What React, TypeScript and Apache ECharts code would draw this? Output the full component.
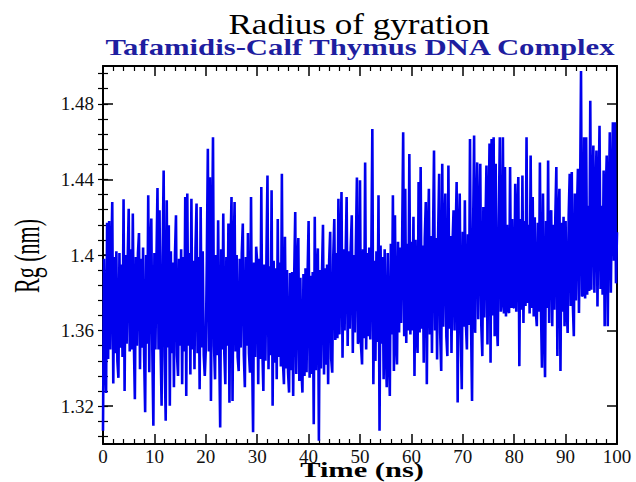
import React, { useEffect, useRef } from "react";
import * as echarts from "echarts";

// Sampling step of the trajectory (ns)
const TIME_STEP = 0.2;

// Radius of gyration (nm), 0.2 ns apart
const rg_0_10 = [
  1.307, 1.398, 1.352, 1.327, 1.417, 1.345, 1.418, 1.35, 1.396, 1.428,
  1.332, 1.399, 1.348, 1.402, 1.344, 1.335, 1.401, 1.351, 1.395, 1.346,
  1.4295, 1.328, 1.4, 1.353, 1.397, 1.4245, 1.349, 1.403, 1.35, 1.422,
  1.355, 1.3237, 1.399, 1.352, 1.401, 1.4116, 1.3395, 1.398, 1.351, 1.404,
  1.347, 1.3168, 1.4, 1.353, 1.4316, 1.338, 1.402, 1.4193, 1.349, 1.3096,
];
const rg_10_20 = [
  1.401, 1.35, 1.397, 1.4354, 1.35, 1.4237, 1.353, 1.3202, 1.399, 1.4447,
  1.346, 1.3123, 1.4289, 1.351, 1.4158, 1.3202, 1.402, 1.348, 1.396, 1.33,
  1.4, 1.421, 1.347, 1.336, 1.398, 1.352, 1.403, 1.3316, 1.399, 1.349,
  1.4307, 1.3254, 1.4325, 1.352, 1.401, 1.3368, 1.4298, 1.35, 1.397, 1.3395,
  1.404, 1.4272, 1.348, 1.399, 1.329, 1.4254, 1.351, 1.402, 1.347, 1.336,
];
const rg_20_30 = [
  1.35, 1.398, 1.4562, 1.349, 1.4412, 1.3228, 1.401, 1.4623, 1.352, 1.3342,
  1.4, 1.347, 1.4184, 1.353, 1.3088, 1.403, 1.35, 1.4219, 1.348, 1.3316,
  1.399, 1.352, 1.4167, 1.3218, 1.402, 1.4307, 1.3228, 1.397, 1.428, 1.349,
  1.4, 1.346, 1.3386, 1.398, 1.351, 1.401, 1.4167, 1.347, 1.33, 1.399,
  1.352, 1.4116, 1.348, 1.3377, 1.4307, 1.35, 1.3062, 1.396, 1.346, 1.4044,
];
const rg_30_40 = [
  1.396, 1.3316, 1.398, 1.345, 1.436, 1.35, 1.328, 1.395, 1.344, 1.399,
  1.4421, 1.3395, 1.394, 1.347, 1.4342, 1.3202, 1.397, 1.343, 1.393, 1.3342,
  1.419, 1.346, 1.396, 1.341, 1.443, 1.344, 1.3316, 1.4097, 1.34, 1.392,
  1.338, 1.3272, 1.3905, 1.339, 1.391, 1.3254, 1.389, 1.4228, 1.337, 1.392,
  1.409, 1.3333, 1.388, 1.34, 1.3272, 1.39, 1.336, 1.393, 1.338, 1.389,
];
const rg_40_50 = [
  1.418, 1.335, 1.389, 1.337, 1.391, 1.3105, 1.4202, 1.339, 1.388, 1.4035,
  1.3017, 1.392, 1.34, 1.39, 1.416, 1.3368, 1.393, 1.342, 1.395, 1.3316,
  1.397, 1.4123, 1.345, 1.3377, 1.399, 1.419, 1.355, 1.401, 1.356, 1.4298,
  1.358, 1.4, 1.4333, 1.3456, 1.403, 1.36, 1.399, 1.4307, 1.3518, 1.402,
  1.361, 1.404, 1.421, 1.3482, 1.4, 1.359, 1.405, 1.441, 1.353, 1.3553,
];
const rg_50_60 = [
  1.4395, 1.352, 1.3421, 1.403, 1.356, 1.449, 1.35, 1.401, 1.357, 1.404,
  1.3553, 1.4, 1.4667, 1.3316, 1.397, 1.3439, 1.402, 1.354, 1.4316, 1.307,
  1.405, 1.353, 1.399, 1.3342, 1.403, 1.356, 1.33, 1.401, 1.352, 1.3254,
  1.406, 1.358, 1.4316, 1.3386, 1.421, 1.356, 1.3421, 1.407, 1.359, 1.404,
  1.364, 1.408, 1.465, 1.357, 1.435, 1.3535, 1.406, 1.36, 1.4535, 1.358,
];
const rg_60_70 = [
  1.407, 1.36, 1.4202, 1.336, 1.408, 1.362, 1.3482, 1.4386, 1.359, 1.4465,
  1.361, 1.405, 1.343, 1.409, 1.428, 1.3316, 1.406, 1.435, 1.358, 1.41,
  1.3482, 1.407, 1.4553, 1.36, 1.409, 1.3447, 1.411, 1.443, 1.359, 1.3386,
  1.4483, 1.362, 1.408, 1.4325, 1.357, 1.3465, 1.4474, 1.361, 1.41, 1.3482,
  1.406, 1.4237, 1.36, 1.409, 1.4386, 1.322, 1.407, 1.4325, 1.358, 1.329,
];
const rg_70_80 = [
  1.4123, 1.362, 1.4289, 1.364, 1.35, 1.411, 1.363, 1.4614, 1.365, 1.3228,
  1.412, 1.4632, 1.3588, 1.414, 1.449, 1.366, 1.41, 1.4483, 1.363, 1.3465,
  1.4254, 1.367, 1.413, 1.4474, 1.3526, 1.415, 1.459, 1.343, 1.4614, 1.368,
  1.4623, 1.357, 1.4483, 1.366, 1.3518, 1.418, 1.4623, 1.37, 1.3763, 1.4623,
  1.369, 1.4465, 1.3675, 1.416, 1.371, 1.3693, 1.4465, 1.372, 1.419, 1.3728,
];
const rg_80_90 = [
  1.372, 1.4377, 1.37, 1.417, 1.4412, 1.3412, 1.419, 1.371, 1.4421, 1.364,
  1.418, 1.373, 1.4623, 1.3746, 1.416, 1.369, 1.4526, 1.372, 1.4307, 1.3675,
  1.42, 1.371, 1.3623, 1.417, 1.37, 1.449, 1.373, 1.3404, 1.4325, 1.369,
  1.3353, 1.418, 1.372, 1.45, 1.364, 1.419, 1.4237, 1.3623, 1.416, 1.371,
  1.42, 1.4465, 1.3465, 1.418, 1.435, 1.3386, 1.417, 1.37, 1.4202, 1.3623,
];
const rg_90_100 = [
  1.418, 1.374, 1.3588, 1.421, 1.443, 1.373, 1.4439, 1.375, 1.357, 1.4325,
  1.376, 1.422, 1.4456, 1.3693, 1.424, 1.4974, 1.378, 1.38, 1.4623, 1.377,
  1.4623, 1.379, 1.426, 1.381, 1.4816, 1.3816, 1.425, 1.4579, 1.38, 1.427,
  1.4553, 1.3728, 1.428, 1.4684, 1.382, 1.426, 1.379, 1.4447, 1.3623, 1.429,
  1.4526, 1.3623, 1.427, 1.4649, 1.38, 1.43, 1.4702, 1.397, 1.4702, 1.385,
  1.412,
];

// Axis ticks
const yMajorTicks = [1.32, 1.36, 1.4, 1.44, 1.48];
const yMinorTicks = [
  1.304, 1.312, 1.32, 1.328, 1.336, 1.344, 1.352, 1.36, 1.368, 1.376, 1.384,
  1.392, 1.4, 1.408, 1.416, 1.424, 1.432, 1.44, 1.448, 1.456, 1.464, 1.472,
  1.48, 1.488, 1.496,
];

const titleText = "Radius of gyration";
const subtitleText = "Tafamidis-Calf Thymus DNA Complex";
const xName = "Time (ns)";
const yName = "Rg (nm)";

const SERIF = "'Liberation Serif', 'Times New Roman', serif";

export default function App() {
  const ref = useRef<HTMLDivElement>(null);

  useEffect(() => {
    document.body.style.margin = "0";
    if (!ref.current) return;
    const chart = echarts.init(ref.current, null, { renderer: "svg" });

    const rg = [
      ...rg_0_10, ...rg_10_20, ...rg_20_30, ...rg_30_40, ...rg_40_50,
      ...rg_50_60, ...rg_60_70, ...rg_70_80, ...rg_80_90, ...rg_90_100,
    ];
    const data = rg.map((v, i) => [Number((i * TIME_STEP).toFixed(1)), v]);

    const lineCol = "#000";
    const tickBase = { show: true, inside: true, lineStyle: { color: lineCol, width: 1.5 } };

    const xCommon = {
      type: "value" as const,
      min: 0,
      max: 100,
      interval: 10,
      splitLine: { show: false },
      axisLine: { show: true, onZero: false, lineStyle: { color: lineCol, width: 2 } },
      axisTick: { ...tickBase, length: 10 },
      minorTick: { show: true, splitNumber: 5, length: 5, lineStyle: { color: lineCol, width: 1.2 } },
    };

    const yCommon = {
      type: "value" as const,
      min: 1.3,
      max: 1.5,
      scale: true,
      splitLine: { show: false },
    };

    const center = { align: "center", verticalAlign: "middle", textAlign: "center", textVerticalAlign: "middle" };

    chart.setOption({
      animation: false,
      backgroundColor: "#fff",
      grid: { left: 103, right: 19, top: 66, bottom: 38, containLabel: false },
      graphic: [
        {
          type: "text",
          x: 359,
          y: 24,
          scaleX: 1.17,
          style: { text: titleText, fontFamily: SERIF, fontSize: 30, fill: "#000", ...center },
        },
        {
          type: "text",
          x: 360,
          y: 47,
          scaleX: 1.28,
          style: { text: subtitleText, fontFamily: SERIF, fontSize: 24, fontWeight: "bold", fill: "#1e1ea0", ...center },
        },
        {
          type: "text",
          x: 362,
          y: 470,
          scaleX: 1.45,
          style: { text: xName, fontFamily: SERIF, fontSize: 21, fontWeight: "bold", fill: "#000", ...center },
        },
        {
          type: "text",
          x: 27,
          y: 256,
          rotation: Math.PI / 2,
          scaleY: 1.6,
          style: { text: yName, fontFamily: SERIF, fontSize: 22, fill: "#000", ...center },
        },
      ],
      xAxis: [
        {
          ...xCommon,
          position: "bottom",
          axisLabel: { show: true, margin: 3, color: "#111", fontFamily: SERIF, fontSize: 19 },
        },
        {
          ...xCommon,
          position: "top",
          axisLabel: { show: false },
        },
      ],
      yAxis: [
        {
          ...yCommon,
          position: "left",
          axisLine: { show: true, onZero: false, lineStyle: { color: lineCol, width: 2 } },
          axisTick: { ...tickBase, length: 10, customValues: yMajorTicks },
          axisLabel: {
            show: true,
            customValues: yMajorTicks,
            margin: 9,
            color: "#111",
            fontFamily: SERIF,
            fontSize: 19,
            formatter: (v: number) => String(Number(v.toFixed(2))),
          },
        },
        {
          ...yCommon,
          position: "left",
          axisLine: { show: false },
          axisTick: { ...tickBase, length: 5, customValues: yMinorTicks, lineStyle: { color: lineCol, width: 1.2 } },
          axisLabel: { show: false },
        },
        {
          ...yCommon,
          position: "right",
          axisLine: { show: true, onZero: false, lineStyle: { color: lineCol, width: 2 } },
          axisTick: { ...tickBase, length: 10, customValues: yMajorTicks },
          axisLabel: { show: false },
        },
        {
          ...yCommon,
          position: "right",
          axisLine: { show: false },
          axisTick: { ...tickBase, length: 5, customValues: yMinorTicks, lineStyle: { color: lineCol, width: 1.2 } },
          axisLabel: { show: false },
        },
      ],
      series: [
        {
          type: "line",
          xAxisIndex: 0,
          yAxisIndex: 0,
          data,
          showSymbol: false,
          symbol: "none",
          silent: true,
          lineStyle: { color: "#0000ee", width: 2.6, join: "bevel" },
          emphasis: { disabled: true },
        },
      ],
    });

    return () => chart.dispose();
  }, []);

  return <div ref={ref} style={{ width: 636, height: 482 }} />;
}
